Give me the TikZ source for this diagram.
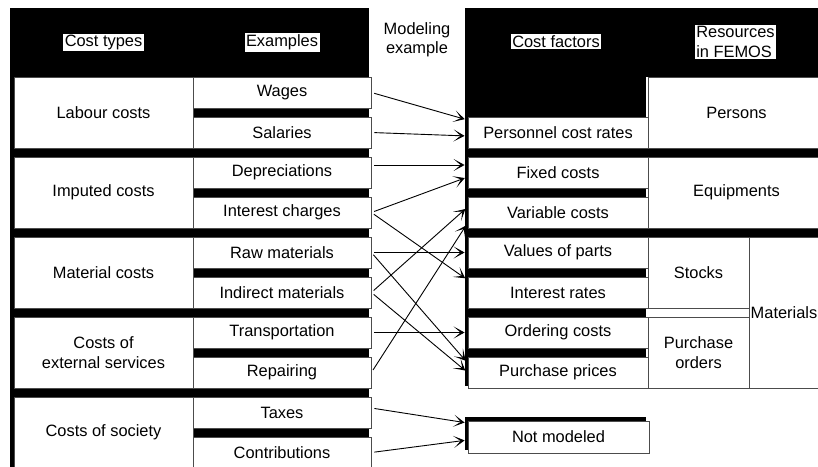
\documentclass[tikz,border=0pt]{standalone}
\usepackage{fontspec}
\setmainfont{Liberation Sans}
\usetikzlibrary{arrows.meta,positioning}
\tikzset{>={Stealth[length=11pt,width=12pt,inset=7pt]}}
\tikzset{
  cell/.style={draw=black!70, line width=0.8pt, fill=white, inner sep=0pt, align=center},
  typecell/.style={cell, minimum width=179pt, minimum height=71pt},
  excell/.style={cell, minimum width=178pt, minimum height=31pt},
  factorcell/.style={cell, minimum width=180pt, minimum height=31pt},
  rescell/.style={cell, minimum width=177pt, minimum height=71pt},
  hdr/.style={fill=white, inner sep=1.5pt, align=left},
  conn/.style={->, line width=0.9pt, shorten <=3pt, shorten >=3pt}
}

\begin{document}
\begin{tikzpicture}[x=1pt,y=-1pt,font=\fontsize{16.4}{19.5}\selectfont]
\useasboundingbox (0,0) rectangle (818,466);
\clip (0,0) rectangle (818,466);

% black backgrounds
\fill[black] (10,8) rectangle (369,475);
\fill[black] (465,8) rectangle (830,77);
\fill[black] (465,77) rectangle (646,386);
\fill[black] (465,148) rectangle (830,157);
\fill[black] (465,228) rectangle (830,237);
\fill[black] (465,417) rectangle (646,450);

% cost types
\node[typecell] (labour) at (103.5,112.5) {Labour costs};
\node[typecell] (imputed) at (103.5,192.5) {Imputed costs};
\node[typecell] (material) at (103.5,272.5) {Material costs};
\node[typecell] (external) at (103.5,352.5) {Costs of\\external services};
\node[typecell] (society) at (103.5,432.5) {Costs of society};

% examples
\node[excell] (wages) at (282,92.5) {Wages};
\node[excell] (salaries) at (282,132.5) {Salaries};
\node[excell] (depr) at (282,172.5) {Depreciations};
\node[excell] (intch) at (282,212.5) {Interest charges};
\node[excell] (raw) at (282,252.5) {Raw materials};
\node[excell] (indirect) at (282,292.5) {Indirect materials};
\node[excell] (transp) at (282,332.5) {Transportation};
\node[excell] (repair) at (282,372.5) {Repairing};
\node[excell] (taxes) at (282,412.5) {Taxes};
\node[excell] (contrib) at (282,452.5) {Contributions};

% cost factors
\node[factorcell] (pcr) at (558,132.5) {Personnel cost rates};
\node[factorcell] (fixed) at (558,172.5) {Fixed costs};
\node[factorcell] (variable) at (558,212.5) {Variable costs};
\node[factorcell] (values) at (558,252.5) {Values of parts};
\node[factorcell] (irates) at (558,292.5) {Interest rates};
\node[factorcell] (ordering) at (558,332.5) {Ordering costs};
\node[factorcell] (pprices) at (558,372.5) {Purchase prices};
\node[factorcell, minimum width=181pt, minimum height=32pt] (notmod) at (558.5,437) {Not modeled};

% resources
\node[rescell] (persons) at (736.5,112.5) {Persons};
\node[rescell] (equip) at (736.5,192.5) {Equipments};
\node[cell, minimum width=101pt, minimum height=71pt] (stocks) at (698.5,272.5) {Stocks};
\node[cell, minimum width=101pt, minimum height=71pt] (porders) at (698.5,352.5) {Purchase\\orders};
\node[cell, minimum width=70pt, minimum height=151pt] (materials) at (784,312.5) {Materials};

% headers
\node[hdr] (hcost) at (103.5,42.5) {Cost types};
\node[hdr] (hex) at (282,42.5) {Examples};
\node[align=center] (hmodel) at (417,40) {Modeling\\example};
\node[hdr] (hfactor) at (556,41.5) {Cost factors};
\node[hdr] (hres) at (735.5,42) {Resources\\in FEMOS};

% mapping
\draw[conn] (wages.east) -- ([yshift=12.5pt]pcr.west);
\draw[conn] (salaries.east) -- ([yshift=-3.5pt]pcr.west);
\draw[conn] ([yshift=7.5pt]depr.east) -- ([yshift=7.5pt]fixed.west);
\draw[conn] (intch.east) -- ([yshift=-4.5pt]fixed.west);
\draw[conn] (intch.east) -- ([yshift=12.5pt]irates.west);
\draw[conn] (raw.east) -- (values.west);
\draw[conn] (raw.east) -- ([yshift=9.5pt]pprices.west);
\draw[conn] (indirect.east) -- ([yshift=5.5pt]variable.west);
\draw[conn] (indirect.east) -- (pprices.west);
\draw[conn] (transp.east) -- (ordering.west);
\draw[conn] (repair.east) -- ([yshift=-10.5pt]variable.west);
\draw[conn] ([yshift=4.5pt]taxes.east) -- ([yshift=14pt]notmod.west);
\draw[conn] (contrib.east) -- ([yshift=-3pt]notmod.west);
\end{tikzpicture}
\end{document}
